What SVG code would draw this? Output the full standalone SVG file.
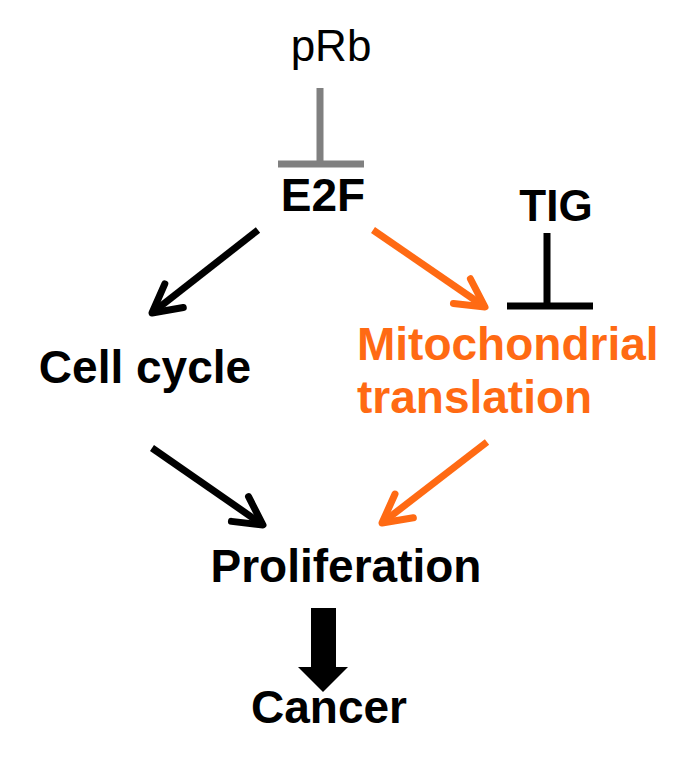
<svg xmlns="http://www.w3.org/2000/svg" width="686" height="781" viewBox="0 0 686 781">
<style>
  .lbl { font-family: "Liberation Sans", Arial, sans-serif; font-weight: bold; font-size: 46px; fill: #000; }
  .reg { font-family: "Liberation Sans", Arial, sans-serif; font-size: 44px; fill: #000; }
  .orange { fill: #FF6A13; }
  .edge { fill: none; stroke-width: 7; }
  .k { stroke: #000; }
  .o { stroke: #FF6A13; }
  .g { stroke: #808080; }
</style>
<defs>
  <marker id="ah-k" markerUnits="userSpaceOnUse" viewBox="-40 -25 50 50" markerWidth="50" markerHeight="50" refX="0" refY="0" orient="auto" overflow="visible">
    <path d="M-28,-15 L0,0 L-28,15" fill="none" stroke="#000" stroke-width="7" stroke-linecap="round" stroke-linejoin="round"/>
  </marker>
  <marker id="ah-o" markerUnits="userSpaceOnUse" viewBox="-40 -25 50 50" markerWidth="50" markerHeight="50" refX="0" refY="0" orient="auto" overflow="visible">
    <path d="M-28,-15 L0,0 L-28,15" fill="none" stroke="#FF6A13" stroke-width="7" stroke-linecap="round" stroke-linejoin="round"/>
  </marker>
</defs>

<g id="connectors">
  <path class="edge g" d="M320,88 V164 M278,164 H364"/>
  <path class="edge k" d="M547,233 V306 M507,306 H593"/>
  <path class="edge k" d="M258,230 L152,313" marker-end="url(#ah-k)"/>
  <path class="edge o" d="M373,230 L485,307" marker-end="url(#ah-o)"/>
  <path class="edge k" d="M152,448 L263,525" marker-end="url(#ah-k)"/>
  <path class="edge o" d="M487,442 L382,523" marker-end="url(#ah-o)"/>
  <polygon points="311,608 336,608 336,667 348,667 323,692 298,667 311,667" fill="#000"/>
</g>

<g id="pRb"><text class="reg" x="331" y="61" text-anchor="middle">pRb</text></g>
<g id="E2F"><text class="lbl" x="323" y="211" text-anchor="middle">E2F</text></g>
<g id="TIG"><text class="lbl" x="556" y="221" text-anchor="middle" style="font-size:44px">TIG</text></g>
<g id="cell-cycle"><text class="lbl" x="145" y="383" text-anchor="middle">Cell cycle</text></g>
<g id="mito-translation">
  <text class="lbl orange" x="357" y="360">Mitochondrial</text>
  <text class="lbl orange" x="357" y="413">translation</text>
</g>
<g id="proliferation"><text class="lbl" x="346" y="582" text-anchor="middle">Proliferation</text></g>
<g id="cancer"><text class="lbl" x="329" y="723" text-anchor="middle">Cancer</text></g>
</svg>
